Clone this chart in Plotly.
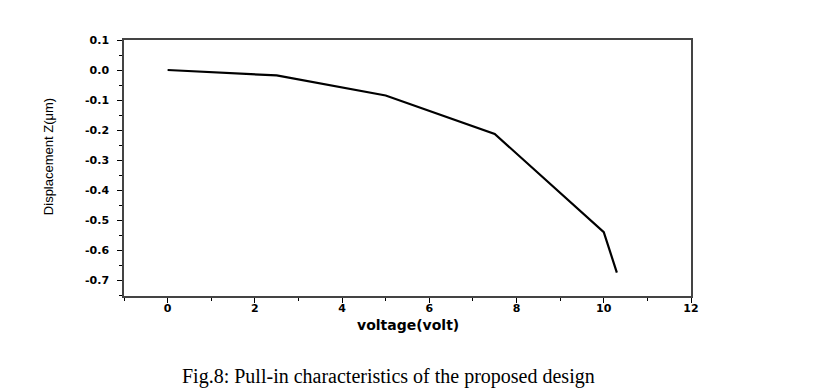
import plotly.graph_objects as go

voltage = [0, 2.5, 5, 7.5, 10, 10.3]
displacement = [0.0, -0.018, -0.085, -0.213, -0.54, -0.675]

x_ticks = [0, 2, 4, 6, 8, 10, 12]
y_ticks = [0.1, 0.0, -0.1, -0.2, -0.3, -0.4, -0.5, -0.6, -0.7]
y_tick_text = ["0.1", "0.0", "-0.1", "-0.2", "-0.3", "-0.4", "-0.5", "-0.6", "-0.7"]

fig = go.Figure()
fig.add_trace(go.Scatter(x=voltage, y=displacement, mode="lines",
                         line=dict(color="black", width=2.2), showlegend=False))

tickfont = dict(family="DejaVu Sans, sans-serif", size=11, color="black")
fig.update_xaxes(range=[-1, 12], tickvals=x_ticks, ticktext=["<b>%s</b>" % v for v in x_ticks],
                 tickfont=tickfont, showgrid=False, zeroline=False,
                 showline=True, linecolor="#444", linewidth=1.5, mirror=True,
                 ticks="outside", ticklen=5, tickwidth=1, tickcolor="black",
                 ticklabelstandoff=-4,
                 minor=dict(dtick=1, ticks="outside", ticklen=3, tickcolor="black", showgrid=False))
fig.update_yaxes(range=[-0.753, 0.1], tickvals=y_ticks, ticktext=["<b>%s</b>" % t for t in y_tick_text],
                 tickfont=tickfont, showgrid=False, zeroline=False,
                 showline=True, linecolor="#444", linewidth=1.5, mirror=True,
                 ticks="outside", ticklen=5, tickwidth=1, tickcolor="black",
                 ticklabelstandoff=6,
                 minor=dict(dtick=0.05, tick0=0, ticks="outside", ticklen=3, tickcolor="black", showgrid=False))

fig.add_annotation(text="<b>voltage(volt)</b>", xref="paper", yref="paper", x=0.501, y=-0.115,
                   xanchor="center", yanchor="middle", showarrow=False,
                   font=dict(family="DejaVu Sans, sans-serif", size=14, color="black"))
fig.add_annotation(text="Displacement Z(μm)", xref="paper", yref="paper", x=-0.132, y=0.543,
                   xanchor="center", yanchor="middle", textangle=-90, showarrow=False,
                   font=dict(family="Liberation Sans Narrow, Arial Narrow, Liberation Sans, sans-serif", size=13, color="black"))
fig.add_annotation(text="Fig.8: Pull-in characteristics of the proposed design",
                   xref="paper", yref="paper", x=0.467, y=-0.316, xanchor="center", yanchor="middle",
                   showarrow=False, font=dict(family="Liberation Serif, Times New Roman, serif", size=20, color="black"))

fig.update_layout(width=825, height=390, margin=dict(l=116, r=142, t=32, b=102),
                  paper_bgcolor="white", plot_bgcolor="white")
fig.write_html("out.html")
